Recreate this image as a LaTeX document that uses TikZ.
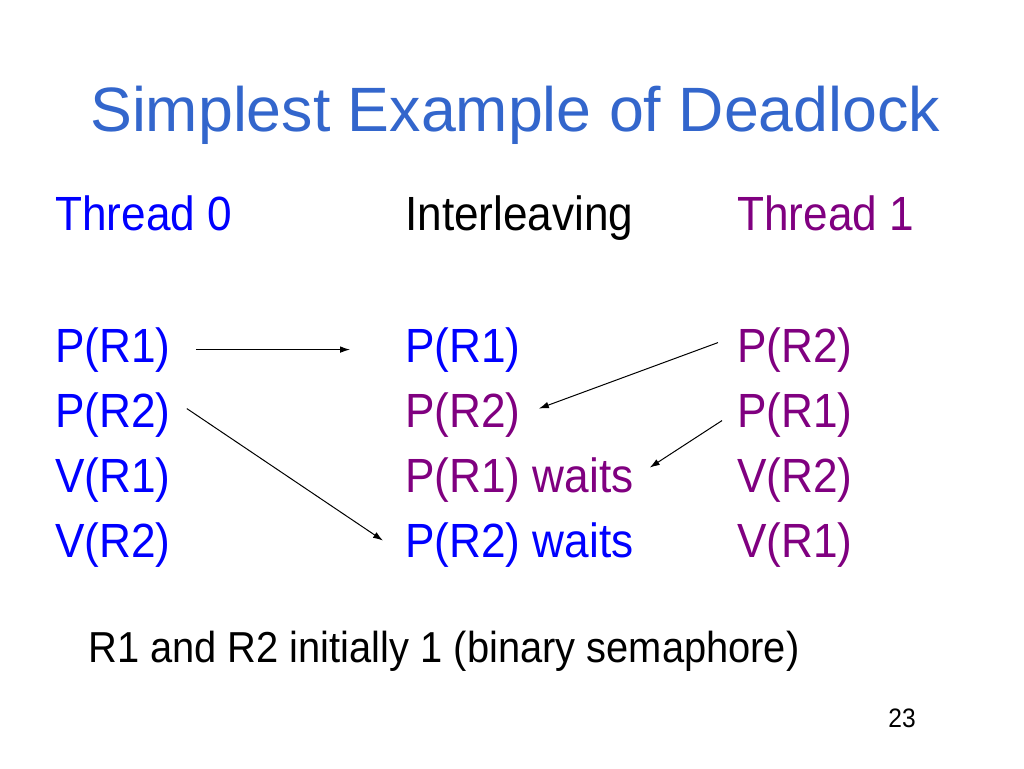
\documentclass[tikz,border=0pt]{standalone}
\usepackage{fontspec}
\setmainfont{Liberation Sans}
\newfontfamily\bodyfont[FakeStretch=0.92]{Liberation Sans}
\usetikzlibrary{calc}
\usetikzlibrary{arrows.meta}

\definecolor{titleblue}{RGB}{51,102,204}
\definecolor{thrblue}{RGB}{0,0,255}
\definecolor{thrpurple}{RGB}{128,0,128}

\tikzset{
	txt/.style={anchor=base west, inner sep=0pt, font=\bodyfont\fontsize{36}{40}\selectfont},
	arr/.style={-{Latex[length=7.5pt,width=5pt]}, line width=0.75pt}
}

\begin{document}
\begin{tikzpicture}[x=0.75pt, y=-0.75pt]
	\useasboundingbox[fill=white] (0,0) rectangle (1024,768);

	% title
	\node[anchor=base west, inner sep=0pt, text=titleblue, font=\fontsize{47}{50}\selectfont] (title) at (90,131) {Simplest Example of Deadlock};

	% column heads
	\node[txt, text=thrblue] (head0) at (55,230) {Thread 0};
	\node[txt] (headm) at (405,230) {Interleaving};
	\node[txt, text=thrpurple] (head1) at (737,230) {Thread 1};

	% thread 0
	\node[txt, text=thrblue] (t0a) at (55,362) {P(R1)};
	\node[txt, text=thrblue] (t0b) at (55,427) {P(R2)};
	\node[txt, text=thrblue] (t0c) at (55,492) {V(R1)};
	\node[txt, text=thrblue] (t0d) at (55,557) {V(R2)};

	% interleaving
	\node[txt, text=thrblue] (mida) at (405,362) {P(R1)};
	\node[txt, text=thrpurple] (midb) at (405,427) {P(R2)};
	\node[txt, text=thrpurple] (midc) at (405,492) {P(R1) waits};
	\node[txt, text=thrblue] (midd) at (405,557) {P(R2) waits};

	% thread 1
	\node[txt, text=thrpurple] (t1a) at (737,362) {P(R2)};
	\node[txt, text=thrpurple] (t1b) at (737,427) {P(R1)};
	\node[txt, text=thrpurple] (t1c) at (737,492) {V(R2)};
	\node[txt, text=thrpurple] (t1d) at (737,557) {V(R1)};

	% arrows
	\draw[arr] ($(t0a.east)+(25,0)$) -- ($(mida.west)+(-55,0)$);
	\draw[arr] ($(t0b.east)+(16,-6)$) -- ($(midd.west)+(-22,-4)$);
	\draw[arr] ($(t1a.west)+(-19,-7)$) -- ($(midb.east)+(18,-6)$);
	\draw[arr] ($(t1b.west)+(-15,6)$) -- ($(midc.east)+(16,-12)$);

	% footnote and page number
	\node[anchor=base west, inner sep=0pt, font=\bodyfont\fontsize{32.5}{36}\selectfont] (note) at (88,662) {R1 and R2 initially 1 (binary semaphore)};
	\node[anchor=base east, inner sep=0pt, font=\bodyfont\fontsize{20}{24}\selectfont] (page) at (916,727) {23};

\end{tikzpicture}
\end{document}
